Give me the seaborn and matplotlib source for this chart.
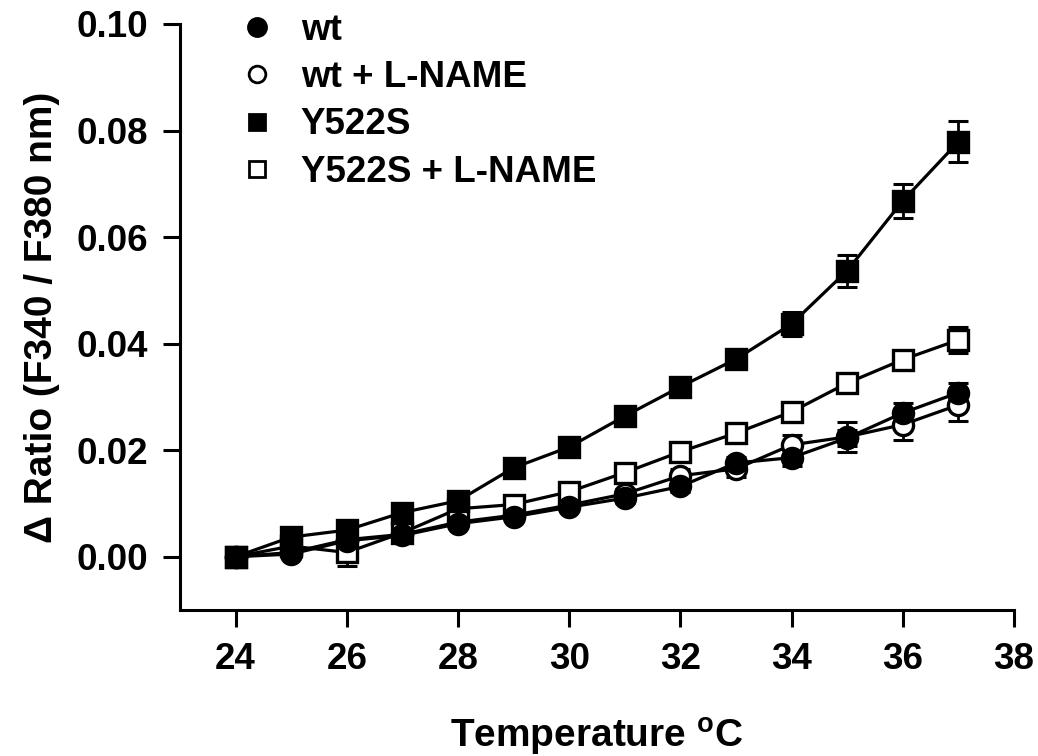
import numpy as np
import matplotlib
matplotlib.use("Agg")
import matplotlib.pyplot as plt
import seaborn as sns
from matplotlib.lines import Line2D

# ---- data ----
temps = [24, 25, 26, 27, 28, 29, 30, 31, 32, 33, 34, 35, 36, 37]
wt = [0.000, 0.0005, 0.0030, 0.0040, 0.0062, 0.0075, 0.0093, 0.0110, 0.0132, 0.0176, 0.0186, 0.0223, 0.0270, 0.0308]
wt_err = [0.0005, 0.0006, 0.0008, 0.0008, 0.0008, 0.0008, 0.0008, 0.0009, 0.0010, 0.0012, 0.0015, 0.0015, 0.0018, 0.0018]
wt_lname = [0.000, 0.0008, 0.0032, 0.0042, 0.0065, 0.0078, 0.0097, 0.0118, 0.0152, 0.0165, 0.0210, 0.0225, 0.0248, 0.0285]
wt_lname_err = [0.0005, 0.0006, 0.0008, 0.0008, 0.0008, 0.0008, 0.0009, 0.0010, 0.0012, 0.0015, 0.0018, 0.0028, 0.0028, 0.0030]
y522s = [0.000, 0.0037, 0.0050, 0.0083, 0.0105, 0.0167, 0.0206, 0.0264, 0.0319, 0.0371, 0.0437, 0.0537, 0.0668, 0.0779]
y522s_err = [0.0005, 0.0008, 0.0008, 0.0008, 0.0008, 0.0010, 0.0010, 0.0010, 0.0012, 0.0012, 0.0023, 0.0030, 0.0032, 0.0038]
y522s_lname = [0.000, 0.0020, 0.0008, 0.0045, 0.0090, 0.0098, 0.0122, 0.0158, 0.0197, 0.0232, 0.0272, 0.0326, 0.0370, 0.0407]
y522s_lname_err = [0.0005, 0.0008, 0.0025, 0.0008, 0.0008, 0.0008, 0.0008, 0.0010, 0.0010, 0.0012, 0.0012, 0.0012, 0.0015, 0.0024]

labels = ["wt", "wt + L-NAME", "Y522S", "Y522S + L-NAME"]
x_ticks = [24, 26, 28, 30, 32, 34, 36, 38]
y_ticks = [0.00, 0.02, 0.04, 0.06, 0.08, 0.10]

sns.set_theme(style="ticks")
plt.rcParams["font.family"] = ["Liberation Sans", "DejaVu Sans"]
plt.rcParams["font.weight"] = "bold"
plt.rcParams["text.color"] = "black"
plt.rcParams["axes.labelcolor"] = "black"
plt.rcParams["xtick.color"] = "black"
plt.rcParams["ytick.color"] = "black"
plt.rcParams["mathtext.fontset"] = "custom"
plt.rcParams["mathtext.rm"] = "Liberation Sans:bold"
plt.rcParams["mathtext.bf"] = "Liberation Sans:bold"

fig = plt.figure(figsize=(10.38, 7.56), dpi=100)
ax = fig.add_axes([0.1734, 0.1931, 0.8035, 0.7752])

series = [
    (wt_lname, wt_lname_err, "o", "white"),
    (y522s_lname, y522s_lname_err, "s", "white"),
    (y522s, y522s_err, "s", "black"),
    (wt, wt_err, "o", "black"),
]
for vals, errs, mk, fc in series:
    ax.errorbar(temps, vals, yerr=errs, fmt="none", ecolor="black",
                elinewidth=2, capsize=7, capthick=2.2, zorder=2)
    sns.lineplot(x=temps, y=vals, ax=ax, color="black", linewidth=2.3,
                 marker=mk, markersize=14.5, markerfacecolor=fc,
                 markeredgecolor="black", markeredgewidth=2.4, zorder=3)

ax.set_xlim(23, 38)
ax.set_ylim(-0.01, 0.10)
ax.set_xticks(x_ticks)
ax.set_yticks(y_ticks)
ax.set_xticklabels([str(t) for t in x_ticks])
ax.set_yticklabels([f"{t:.2f}" for t in y_ticks])
for s in ["top", "right"]:
    ax.spines[s].set_visible(False)
for s in ["left", "bottom"]:
    ax.spines[s].set_linewidth(2.2)
    ax.spines[s].set_color("black")
ax.tick_params(axis="both", direction="out", length=12, width=2.2,
               labelsize=26.5, pad=11, colors="black", labelcolor="black")
for lab in ax.get_xticklabels() + ax.get_yticklabels():
    lab.set_fontweight("bold")

ax.set_xlabel(r"Temperature $^{\mathrm{o}}$C", fontsize=28, fontweight="bold",
              labelpad=28, color="black")
ax.set_ylabel("\u0394 Ratio (F340 / F380 nm)", fontsize=28, fontweight="bold",
              labelpad=12, color="black")

handles = [
    Line2D([], [], linestyle="none", marker="o", markersize=13, markerfacecolor="black", markeredgecolor="black", markeredgewidth=2),
    Line2D([], [], linestyle="none", marker="o", markersize=12, markerfacecolor="white", markeredgecolor="black", markeredgewidth=2),
    Line2D([], [], linestyle="none", marker="s", markersize=12, markerfacecolor="black", markeredgecolor="black", markeredgewidth=2),
    Line2D([], [], linestyle="none", marker="s", markersize=11, markerfacecolor="white", markeredgecolor="black", markeredgewidth=2),
]
leg = ax.legend(handles, labels, loc="upper left", bbox_to_anchor=(0.03, 1.075),
                frameon=False, handlelength=1.0, handletextpad=0.7,
                labelspacing=0.33, prop={"weight": "bold", "size": 26.5})
for t in leg.get_texts():
    t.set_color("black")

fig.savefig("out.png", dpi=100)
